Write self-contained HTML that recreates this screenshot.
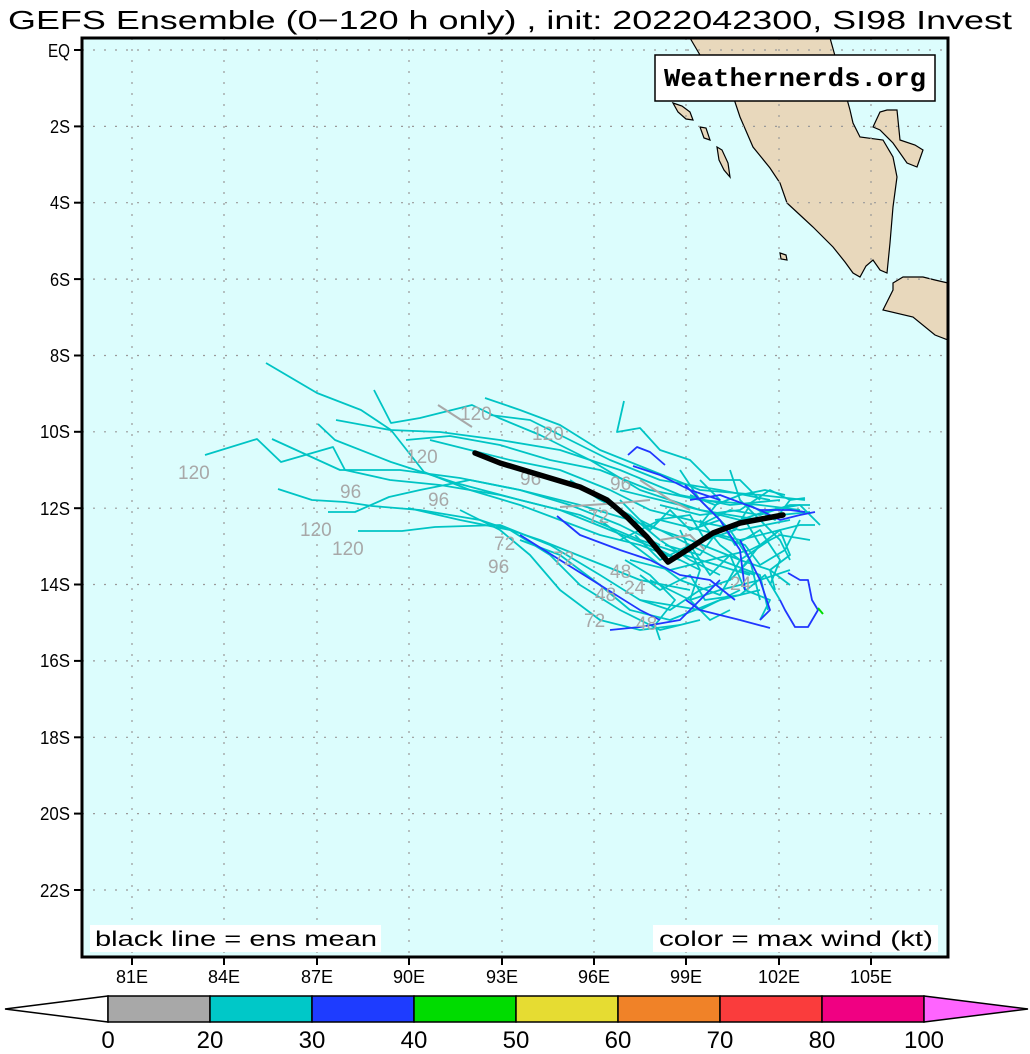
<!DOCTYPE html>
<html><head><meta charset="utf-8"><style>
html,body{margin:0;padding:0;background:#fff;}
svg{display:block;font-family:"Liberation Sans","DejaVu Sans",sans-serif;}
</style></head><body>
<svg width="1030" height="1054" viewBox="0 0 1030 1054" xmlns="http://www.w3.org/2000/svg">
<rect width="1030" height="1054" fill="#fff"/>
<text x="8" y="29" font-size="26" textLength="1004" lengthAdjust="spacingAndGlyphs" fill="#000">GEFS Ensemble (0−120 h only) , init: 2022042300, SI98 Invest</text>
<rect x="82" y="38" width="866" height="919" fill="#dcfdfd"/>
<g fill="#e8d8bc" stroke="#000" stroke-width="1.2">
<polygon points="690,38 700,55 715,70 730,87 740,117 753,147 770,168 780,183 787,203 800,215 813,227 833,247 845,262 853,273 860,277 866,266 873,260 880,270 887,273 890,243 893,207 897,177 893,157 883,140 860,137 853,123 850,110 837,63 830,38"/>
<polygon points="873,127 880,112 887,110 897,110 900,140 915,145 923,150 917,167 907,163 893,143 880,130"/>
<polygon points="893,283 903,277 923,277 935,280 948,283 948,340 935,335 913,317 883,310 888,300 893,290"/>
<polygon points="717,147 722,150 728,163 730,177 724,170 719,160"/>
<polygon points="700,127 706,128 710,140 704,138"/>
<polygon points="673,103 682,106 690,112 693,120 686,119 678,112"/>
<polygon points="780,253 786,255 787,260 781,259"/>
</g>
<g stroke="#999" stroke-width="1.2" stroke-dasharray="2,9">
<line x1="132" y1="38" x2="132" y2="957"/><line x1="224" y1="38" x2="224" y2="957"/><line x1="317" y1="38" x2="317" y2="957"/><line x1="409" y1="38" x2="409" y2="957"/><line x1="502" y1="38" x2="502" y2="957"/><line x1="594" y1="38" x2="594" y2="957"/><line x1="686" y1="38" x2="686" y2="957"/><line x1="779" y1="38" x2="779" y2="957"/><line x1="871" y1="38" x2="871" y2="957"/>
<line x1="82" y1="50" x2="948" y2="50"/><line x1="82" y1="126.4" x2="948" y2="126.4"/><line x1="82" y1="202.7" x2="948" y2="202.7"/><line x1="82" y1="279.1" x2="948" y2="279.1"/><line x1="82" y1="355.5" x2="948" y2="355.5"/><line x1="82" y1="431.8" x2="948" y2="431.8"/><line x1="82" y1="508.2" x2="948" y2="508.2"/><line x1="82" y1="584.5" x2="948" y2="584.5"/><line x1="82" y1="660.9" x2="948" y2="660.9"/><line x1="82" y1="737.3" x2="948" y2="737.3"/><line x1="82" y1="813.6" x2="948" y2="813.6"/><line x1="82" y1="890" x2="948" y2="890"/>
</g>
<g fill="none" stroke="#00c4c4" stroke-width="1.8" stroke-linejoin="round">
<polyline points="266,363 317,393 361,410 391,430 424,472 470,490 520,505 560,520 600,535 640,545 680,560"/>
<polyline points="205,455 257,439 281,462 333,447 345,470 390,480 440,485 500,495 560,510 610,530 660,550 700,570"/>
<polyline points="272,439 340,470 400,470 460,478 520,490 580,505 630,520 690,540 740,560"/>
<polyline points="278,489 312,500 345,502 372,506 420,510 480,520 540,540 590,560 640,580 690,590"/>
<polyline points="328,512 355,512 389,497 420,490 470,480 520,490 570,505 620,525 660,545"/>
<polyline points="358,531 402,531 435,527 500,525 550,545 600,575 640,600 700,610 740,590"/>
<polyline points="374,390 391,423 420,418 472,405 499,418 540,435 590,460 640,490 700,510 760,520"/>
<polyline points="318,424 335,440 391,462 456,483 520,500 580,515 640,540 700,560 750,575"/>
<polyline points="336,420 390,430 440,432 500,440 560,450 620,470 680,495 730,505 780,500"/>
<polyline points="406,440 450,436 500,445 550,460 600,470 650,490 700,500 760,505 800,510"/>
<polyline points="485,398 520,410 560,425 600,450 650,470 700,490 760,495 805,500"/>
<polyline points="490,415 530,420 570,440 610,460 660,480 720,490 770,500"/>
<polyline points="430,440 470,450 510,460 560,470 610,490 650,510 690,520 740,530 790,520"/>
<polyline points="408,508 460,520 510,530 550,555 580,585 620,610 660,630 700,620"/>
<polyline points="520,540 560,555 600,585 630,610 670,620 720,600 760,590"/>
<polyline points="460,510 500,530 530,555 560,590 600,620 640,630 680,625"/>
<polyline points="624,401 617,432 640,428 660,450 690,460 710,480 740,480 760,500"/>
<polyline points="620,490 660,500 700,510 740,520 780,515 810,512"/>
<polyline points="620,540 660,520 700,530 740,540 780,530 800,525 815,525"/>
<polyline points="630,560 670,570 710,560 750,550 780,535 810,540"/>
<polyline points="650,580 690,600 720,590 760,580 790,570"/>
<polyline points="640,520 680,540 720,560 760,575 768,610"/>
<polyline points="660,505 700,515 740,510 770,490 790,500 805,498"/>
<polyline points="600,520 640,550 680,580 720,595 740,560 770,540"/>
<polyline points="680,470 700,500 730,530 750,560 760,600"/>
<polyline points="700,520 720,545 740,560 770,570 775,590"/>
<polyline points="640,600 670,610 700,590 730,580 750,560"/>
<polyline points="570,480 600,500 630,515 660,540 690,560 720,575"/>
<polyline points="730,470 740,500 760,520 780,540 790,560"/>
<polyline points="620,500 650,530 670,510 690,530 720,520 735,545 760,530 780,560 770,585"/>
<polyline points="635,535 660,560 690,545 710,575 730,555 745,590 770,600 760,620"/>
<polyline points="655,520 690,515 705,540 735,530 750,505 775,520 790,500"/>
<polyline points="665,545 700,555 715,535 745,545 760,565 785,550 800,520"/>
<polyline points="640,575 660,590 690,575 705,600 740,595 765,575 780,600"/>
<polyline points="700,480 720,500 700,525 730,510 760,515 790,505 810,505"/>
<polyline points="740,520 770,510 800,505 820,525"/>
<polyline points="760,545 780,530 790,555 770,570 790,585"/>
<polyline points="680,530 700,570 690,600 710,620 730,610"/>
<polyline points="625,560 650,575 675,600 655,625 660,640"/>
<polyline points="720,530 745,520 760,545 740,570 755,575"/>
<polyline points="690,495 715,505 740,495 765,490 785,495"/>
</g>
<g fill="none" stroke="#2036ff" stroke-width="1.8" stroke-linejoin="round">
<polyline points="628,455 637,447 650,452 665,465"/>
<polyline points="633,466 660,475 690,490 720,500"/>
<polyline points="557,516 580,535 620,550 650,560"/>
<polyline points="520,535 560,560 600,585 640,610 660,620"/>
<polyline points="610,630 640,627 680,620 700,600 720,580"/>
<polyline points="788,573 800,580 808,580 812,600 818,610 808,627 795,627 785,610 780,600"/>
<polyline points="686,600 700,610 720,615 740,620 770,628"/>
<polyline points="690,500 720,495 760,510 790,510 805,512"/>
<polyline points="740,540 750,560 760,580 770,610 760,620"/>
<polyline points="685,485 700,500 720,520 740,550 745,590"/>
<polyline points="760,510 780,520 800,515 815,512"/>
<polyline points="650,560 680,575 710,580 735,600"/>
</g>
<polyline points="818,608 823,614" stroke="#00dd00" stroke-width="2"/>
<g fill="none" stroke="#a8a8a8" stroke-width="2">
<polyline points="438,405 472,427"/>
<polyline points="560,507 620,503 650,500"/>
<polyline points="640,480 670,500 690,510"/>
<polyline points="660,540 690,535 705,550"/>
</g>
<g fill="#a8a8a8" font-size="19">
<text x="178" y="479">120</text><text x="300" y="536">120</text><text x="332" y="555">120</text>
<text x="340" y="498">96</text><text x="428" y="506">96</text><text x="406" y="463">120</text>
<text x="460" y="420">120</text><text x="532" y="440">120</text><text x="488" y="573">96</text>
<text x="494" y="550">72</text><text x="553" y="565">72</text><text x="584" y="627">72</text>
<text x="588" y="523">72</text><text x="520" y="485">96</text><text x="610" y="490">96</text>
<text x="595" y="601">48</text><text x="636" y="630">48</text><text x="610" y="578">48</text>
<text x="624" y="594">24</text><text x="730" y="590">24</text>
</g>
<polyline points="475,453 500,463 540,475 580,487 607,500 627,517 647,537 668,562 687,550 713,533 740,523 783,515" fill="none" stroke="#000" stroke-width="5.5" stroke-linejoin="round" stroke-linecap="round"/>
<rect x="655" y="55" width="280" height="46" fill="#fff" stroke="#000" stroke-width="1.5"/>
<text x="795" y="86" text-anchor="middle" font-family="Liberation Mono,monospace" font-weight="bold" font-size="26" textLength="262" lengthAdjust="spacingAndGlyphs">Weathernerds.org</text>
<rect x="90" y="925" width="291" height="27" fill="#fff"/>
<text x="95" y="946" font-size="21" textLength="282" lengthAdjust="spacingAndGlyphs">black line = ens mean</text>
<rect x="653" y="925" width="285" height="27" fill="#fff"/>
<text x="659" y="946" font-size="21" textLength="274" lengthAdjust="spacingAndGlyphs">color = max wind (kt)</text>
<rect x="82" y="38" width="866" height="919" fill="none" stroke="#000" stroke-width="3"/>
<g stroke="#000" stroke-width="2">
<line x1="74" y1="50" x2="82" y2="50"/><line x1="74" y1="126.4" x2="82" y2="126.4"/><line x1="74" y1="202.7" x2="82" y2="202.7"/><line x1="74" y1="279.1" x2="82" y2="279.1"/><line x1="74" y1="355.5" x2="82" y2="355.5"/><line x1="74" y1="431.8" x2="82" y2="431.8"/><line x1="74" y1="508.2" x2="82" y2="508.2"/><line x1="74" y1="584.5" x2="82" y2="584.5"/><line x1="74" y1="660.9" x2="82" y2="660.9"/><line x1="74" y1="737.3" x2="82" y2="737.3"/><line x1="74" y1="813.6" x2="82" y2="813.6"/><line x1="74" y1="890" x2="82" y2="890"/>
<line x1="132" y1="957" x2="132" y2="965"/><line x1="224" y1="957" x2="224" y2="965"/><line x1="317" y1="957" x2="317" y2="965"/><line x1="409" y1="957" x2="409" y2="965"/><line x1="502" y1="957" x2="502" y2="965"/><line x1="594" y1="957" x2="594" y2="965"/><line x1="686" y1="957" x2="686" y2="965"/><line x1="779" y1="957" x2="779" y2="965"/><line x1="871" y1="957" x2="871" y2="965"/>
</g>
<g font-size="18" text-anchor="end" transform="scale(1,1)">
<text x="70" y="57" textLength="22" lengthAdjust="spacingAndGlyphs">EQ</text><text x="70" y="133" textLength="20" lengthAdjust="spacingAndGlyphs">2S</text><text x="70" y="209" textLength="20" lengthAdjust="spacingAndGlyphs">4S</text><text x="70" y="286" textLength="20" lengthAdjust="spacingAndGlyphs">6S</text><text x="70" y="362" textLength="20" lengthAdjust="spacingAndGlyphs">8S</text><text x="70" y="438" textLength="30" lengthAdjust="spacingAndGlyphs">10S</text><text x="70" y="515" textLength="30" lengthAdjust="spacingAndGlyphs">12S</text><text x="70" y="591" textLength="30" lengthAdjust="spacingAndGlyphs">14S</text><text x="70" y="667" textLength="30" lengthAdjust="spacingAndGlyphs">16S</text><text x="70" y="744" textLength="30" lengthAdjust="spacingAndGlyphs">18S</text><text x="70" y="820" textLength="30" lengthAdjust="spacingAndGlyphs">20S</text><text x="70" y="897" textLength="30" lengthAdjust="spacingAndGlyphs">22S</text>
</g>
<g font-size="18" text-anchor="middle">
<text x="132" y="983">81E</text><text x="224" y="983">84E</text><text x="317" y="983">87E</text><text x="409" y="983">90E</text><text x="502" y="983">93E</text><text x="594" y="983">96E</text><text x="686" y="983">99E</text><text x="779" y="983">102E</text><text x="871" y="983">105E</text>
</g>
<g stroke="#000" stroke-width="1.5">
<polygon points="5,1009 108,996 108,1022" fill="#fff"/>
<rect x="108" y="996" width="102" height="26" fill="#a8a8a8"/>
<rect x="210" y="996" width="102" height="26" fill="#00c8c8"/>
<rect x="312" y="996" width="102" height="26" fill="#1e3cff"/>
<rect x="414" y="996" width="102" height="26" fill="#00dc00"/>
<rect x="516" y="996" width="102" height="26" fill="#e6dc32"/>
<rect x="618" y="996" width="102" height="26" fill="#f08228"/>
<rect x="720" y="996" width="102" height="26" fill="#fa3c3c"/>
<rect x="822" y="996" width="102" height="26" fill="#f00082"/>
<polygon points="924,996 1028,1009 924,1022" fill="#ff64ff"/>
</g>
<g font-size="24" text-anchor="middle">
<text x="108" y="1048">0</text><text x="210" y="1048">20</text><text x="312" y="1048">30</text><text x="414" y="1048">40</text><text x="516" y="1048">50</text><text x="618" y="1048">60</text><text x="720" y="1048">70</text><text x="822" y="1048">80</text><text x="924" y="1048">100</text>
</g>
</svg>
</body></html>
